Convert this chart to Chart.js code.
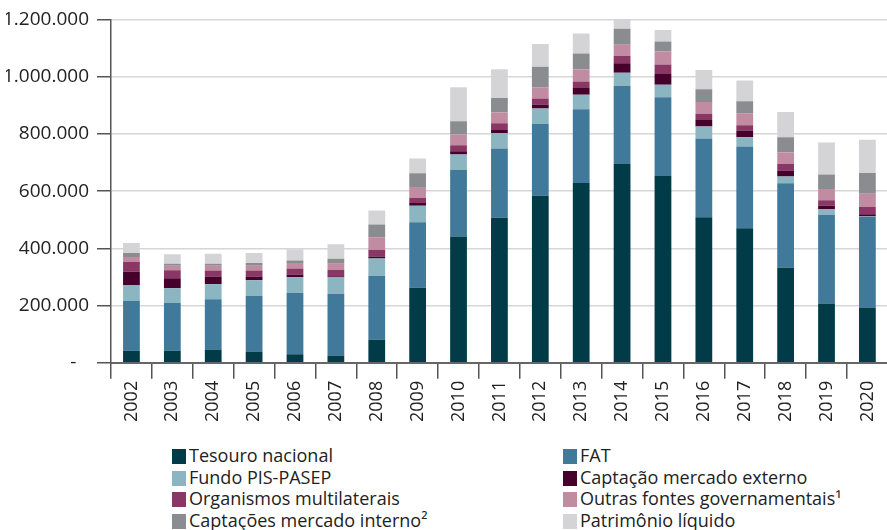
<!DOCTYPE html>
<html>
<head>
<meta charset="utf-8">
<script src="https://cdn.jsdelivr.net/npm/chart.js@4/dist/chart.umd.min.js"></script>
<style>
  html, body { margin: 0; padding: 0; background: #fff; overflow: hidden; }
  #wrap { position: absolute; left: 0; top: 0; width: 891px; height: 430px; }
  #legend {
    position: absolute; left: 172px; top: 444px; width: 715px;
    font-family: "Open Sans", sans-serif; font-size: 18px; color: #222;
  }
  .item { position: absolute; height: 22px; line-height: 22px; white-space: nowrap; }
  .box { display: inline-block; width: 14px; height: 15px; vertical-align: -2px; margin-right: 3px; }
</style>
</head>
<body>
<div id="wrap"><canvas id="chart" width="891" height="430"></canvas></div>
<div id="legend"></div>
<script>
// Categories
const years = ['2002', '2003', '2004', '2005', '2006', '2007', '2008', '2009', '2010',
  '2011', '2012', '2013', '2014', '2015', '2016', '2017', '2018', '2019', '2020'];

// Series values
const tesouro = [42000, 42000, 46500, 39400, 30000, 25500, 81000, 262600, 441000, 507000,
  583500, 628000, 695000, 653000, 509000, 470000, 332000, 207000, 193000];
const fat = [174000, 167000, 175500, 195000, 214000, 216000, 223000, 228200, 233000, 242000,
  251000, 258000, 272000, 275000, 274600, 286000, 295400, 309400, 316300];
const pisPasep = [56000, 51500, 52500, 54000, 56000, 58000, 60500, 58000, 53700, 53300,
  54000, 51000, 47000, 44000, 41800, 32500, 23400, 21000, 2000];
const captExterno = [46500, 35000, 27500, 13500, 9000, 3000, 7000, 9300, 11600, 11600,
  14000, 23000, 32500, 37000, 23000, 23300, 21000, 11500, 8000];
const organismos = [35000, 28000, 21000, 21000, 21000, 23000, 23000, 18600, 20900, 23300,
  21000, 23000, 25500, 33000, 21000, 18700, 23000, 18800, 25400];
const outrasFontes = [16000, 16000, 16000, 16000, 18500, 21000, 44500, 37300, 37300, 37300,
  39400, 42000, 39700, 46000, 41800, 41900, 39700, 39400, 46400];
const captInterno = [14000, 7000, 7000, 9700, 9000, 17000, 44300, 48800, 46400, 51000,
  72000, 56000, 55800, 35000, 44300, 42000, 53400, 51300, 72200];
const patrimonio = [35000, 33000, 35000, 35000, 39600, 51000, 49000, 51300, 118600, 100000,
  79000, 70000, 44000, 39600, 67300, 72000, 88200, 111600, 116200];

// Y axis ticks
const yMax = 1200000;
const yStep = 200000;

const seriesLabels = ['Tesouro nacional', 'FAT', 'Fundo PIS-PASEP', 'Captação mercado externo',
  'Organismos multilaterais', 'Outras fontes governamentais¹', 'Captações mercado interno²', 'Patrimônio líquido'];
const seriesData = [tesouro, fat, pisPasep, captExterno, organismos, outrasFontes, captInterno, patrimonio];
const seriesColors = ['#003b47', '#41799b', '#8bb5c1', '#45002b', '#8a3766', '#c18ba1', '#8b8c8f', '#d4d4d6'];

// 1200000 -> "1.200.000", zero shown as a dash (accounting style)
function fmt(v) {
  if (v === 0) return '-\u2002\u2009';
  return String(v).replace(/\B(?=(\d{3})+(?!\d))/g, '.');
}

const ctx = document.getElementById('chart').getContext('2d');
const chart = new Chart(ctx, {
  type: 'bar',
  data: {
    labels: years,
    datasets: seriesData.map(function (d, i) {
      return {
        label: seriesLabels[i],
        data: d,
        backgroundColor: seriesColors[i],
        borderWidth: 0,
        barPercentage: 0.41,
        categoryPercentage: 1
      };
    })
  },
  options: {
    responsive: false,
    animation: false,
    devicePixelRatio: 1,
    layout: { autoPadding: false, padding: { left: 6, top: 18, right: 0, bottom: 6 } },
    plugins: { legend: { display: false }, tooltip: { enabled: false } },
    scales: {
      x: {
        stacked: true,
        border: { color: '#666', width: 2 },
        grid: { offset: true, drawOnChartArea: false, tickLength: 16, tickColor: '#555', lineWidth: 1.5 },
        ticks: {
          minRotation: 90, maxRotation: 90, padding: 2,
          color: '#222', font: { family: 'Open Sans', size: 18 }
        }
      },
      y: {
        stacked: true,
        min: 0, max: yMax,
        border: { color: '#555', width: 1.5 },
        grid: { color: '#d6d6d6', lineWidth: 1.5, tickLength: 14, tickColor: '#555' },
        ticks: {
          stepSize: yStep, padding: 8,
          color: '#222', font: { family: 'Open Sans', size: 19 },
          callback: function (v) { return fmt(v); }
        },
        afterFit: function (scale) { scale.width = 105; }
      }
    }
  }
});

// Two-column legend below the chart
const legend = document.getElementById('legend');
const colX = [0, 391];
const rowY = [0, 21.5, 43, 64.5];
seriesLabels.forEach(function (label, i) {
  const el = document.createElement('div');
  el.className = 'item';
  el.style.left = colX[i % 2] + 'px';
  el.style.top = rowY[Math.floor(i / 2)] + 'px';
  el.innerHTML = '<span class="box" style="background:' + seriesColors[i] + '"></span>' + label;
  legend.appendChild(el);
});
</script>
</body>
</html>
